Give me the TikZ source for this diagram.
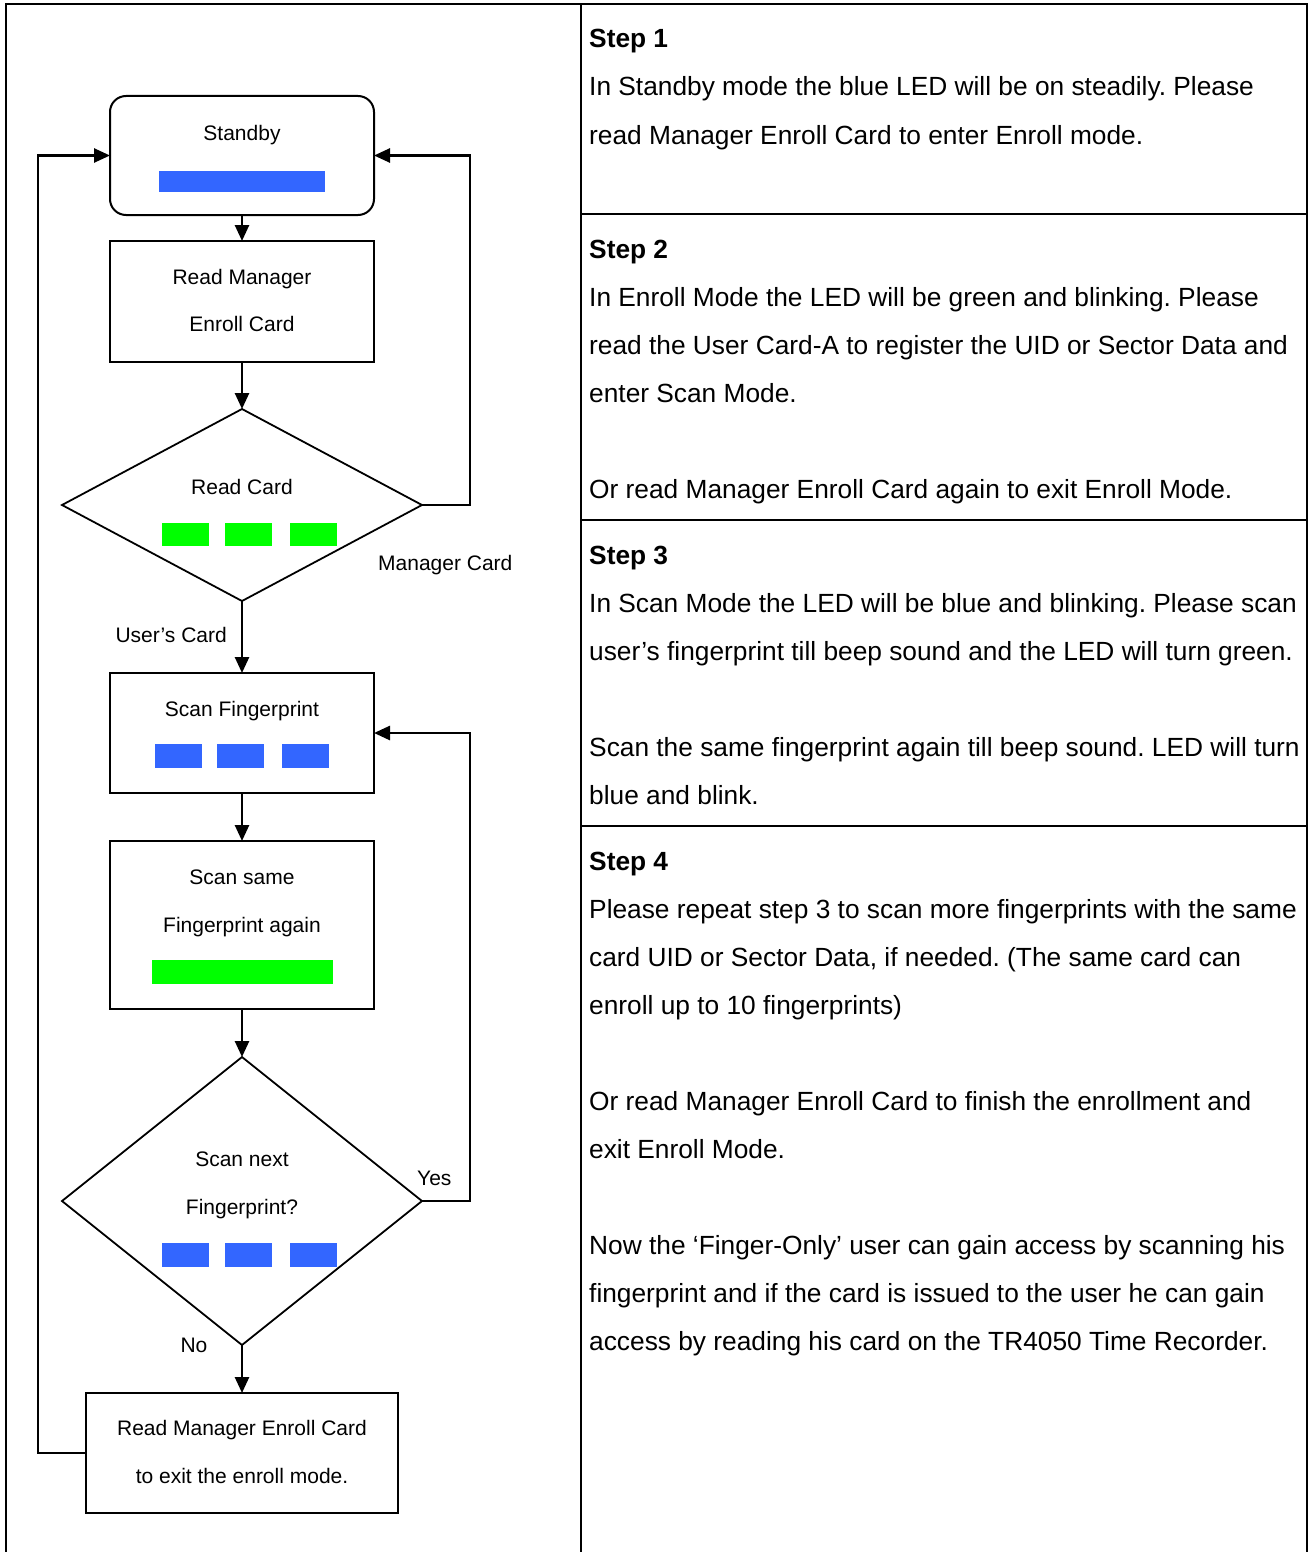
\documentclass[tikz,border=0pt]{standalone}
\usepackage{fontspec}
\setmainfont{Liberation Sans}
\usetikzlibrary{arrows.meta,shapes.geometric}
\definecolor{ledblue}{RGB}{51,102,255}
\definecolor{ledgreen}{RGB}{0,255,0}
\frenchspacing
\begin{document}
\begin{tikzpicture}[x=1pt,y=-1pt,
  frameline/.style={line width=2pt,black},
  boxstyle/.style={draw,line width=2pt,minimum width=264pt,inner sep=0pt,outer sep=0pt},
  diastyle/.style={draw,diamond,line width=1.8pt,inner sep=0pt,outer sep=0pt,minimum width=360pt},
  conn/.style={line width=2.6pt,-{Triangle[length=16pt,width=14pt]}},
  ftext/.style={font=\fontsize{21}{25}\selectfont,anchor=base,inner sep=0pt},
  rtext/.style={font=\fontsize{26.3}{32}\selectfont,anchor=base west,inner sep=0pt},
  rhead/.style={font=\fontsize{26.3}{32}\selectfont\bfseries,anchor=base west,inner sep=0pt},
  bluebar/.style={fill=ledblue,draw=none},
  greenbar/.style={fill=ledgreen,draw=none}]
\useasboundingbox (0,0) rectangle (1309,1552);
\fill[white] (0,0) rectangle (1309,1552);
% table frame
\draw[frameline] (5,4) -- (1308,4);
\draw[frameline] (6,4) -- (6,1552);
\draw[frameline] (1307,4) -- (1307,1552);
\draw[frameline] (581,4) -- (581,1552);
\draw[frameline] (581,214) -- (1307,214);
\draw[frameline] (581,520) -- (1307,520);
\draw[frameline] (581,826) -- (1307,826);
% flowchart nodes
\node[boxstyle,rounded corners=16pt,minimum height=119pt] (standby) at (242,155.5) {};
\node[ftext] (standbyT) at (242,140.5) {Standby};
\fill[bluebar] (159,171) rectangle (325,192);

\node[boxstyle,minimum height=121pt] (readmgr) at (242,301.5) {};
\node[ftext] (readmgrT1) at (242,284.5) {Read Manager};
\node[ftext] (readmgrT2) at (242,331.5) {Enroll Card};

\node[diastyle,minimum height=192pt] (d1) at (242,505) {};
\node[ftext] (d1T) at (242,494.5) {Read Card};
\fill[greenbar] (162,523) rectangle (209,546);
\fill[greenbar] (225,523) rectangle (272,546);
\fill[greenbar] (290,523) rectangle (337,546);

\node[boxstyle,minimum height=120pt] (scan) at (242,733) {};
\node[ftext] (scanT) at (242,716.5) {Scan Fingerprint};
\fill[bluebar] (155,744) rectangle (202,768);
\fill[bluebar] (217,744) rectangle (264,768);
\fill[bluebar] (282,744) rectangle (329,768);

\node[boxstyle,minimum height=168pt] (scan2) at (242,925) {};
\node[ftext] (scan2T1) at (242,884.5) {Scan same};
\node[ftext] (scan2T2) at (242,932.5) {Fingerprint again};
\fill[greenbar] (152,960) rectangle (333,984);

\node[diastyle,minimum height=288pt] (d2) at (242,1201) {};
\node[ftext] (d2T1) at (242,1166.5) {Scan next};
\node[ftext] (d2T2) at (242,1214.5) {Fingerprint?};
\fill[bluebar] (162,1243) rectangle (209,1267);
\fill[bluebar] (225,1243) rectangle (272,1267);
\fill[bluebar] (290,1243) rectangle (337,1267);

\node[boxstyle,minimum width=312pt,minimum height=120pt] (final) at (242,1453) {};
\node[ftext] (finalT1) at (242,1435.5) {Read Manager Enroll Card};
\node[ftext] (finalT2) at (242,1483.5) {to exit the enroll mode.};

% labels
\node[ftext,anchor=base west] (lblMgr) at (378,570.5) {Manager Card};
\node[ftext,anchor=base east] (lblUser) at (227,642.5) {User’s Card};
\node[ftext,anchor=base west] (lblYes) at (417,1185.5) {Yes};
\node[ftext] (lblNo) at (194,1352.5) {No};

% connectors
\coordinate (rx) at (470,0);
\coordinate (lx) at (38,0);
\draw[conn] (standby.south) -- (readmgr.north);
\draw[conn] (readmgr.south) -- (d1.north);
\draw[conn] (d1.south) -- (scan.north);
\draw[conn] (scan.south) -- (scan2.north);
\draw[conn] (scan2.south) -- (d2.north);
\draw[conn] (d2.south) -- (final.north);
\draw[conn] (d1.east) -- (d1.east -| rx) |- (standby.east);
\draw[conn] (d2.east) -- (d2.east -| rx) |- (scan.east);
\draw[conn] (final.west) -- (final.west -| lx) |- (standby.west);

% right column text
\node[rhead] (s1h) at (589,48) {Step 1};
\node[rtext] (s1a) at (589,96) {In Standby mode the blue LED will be on steadily. Please};
\node[rtext] (s1b) at (589,144) {read Manager Enroll Card to enter Enroll mode.};

\node[rhead] (s2h) at (589,258) {Step 2};
\node[rtext] (s2a) at (589,306) {In Enroll Mode the LED will be green and blinking. Please};
\node[rtext] (s2b) at (589,354) {read the User Card-A to register the UID or Sector Data and};
\node[rtext] (s2c) at (589,402) {enter Scan Mode.};
\node[rtext] (s2d) at (589,498) {Or read Manager Enroll Card again to exit Enroll Mode.};

\node[rhead] (s3h) at (589,564) {Step 3};
\node[rtext] (s3a) at (589,612) {In Scan Mode the LED will be blue and blinking. Please scan};
\node[rtext] (s3b) at (589,660) {user’s fingerprint till beep sound and the LED will turn green.};
\node[rtext] (s3c) at (589,756) {Scan the same fingerprint again till beep sound. LED will turn};
\node[rtext] (s3d) at (589,804) {blue and blink.};

\node[rhead] (s4h) at (589,870) {Step 4};
\node[rtext] (s4a) at (589,918) {Please repeat step 3 to scan more fingerprints with the same};
\node[rtext] (s4b) at (589,966) {card UID or Sector Data, if needed. (The same card can};
\node[rtext] (s4c) at (589,1014) {enroll up to 10 fingerprints)};
\node[rtext] (s4d) at (589,1110) {Or read Manager Enroll Card to finish the enrollment and};
\node[rtext] (s4e) at (589,1158) {exit Enroll Mode.};
\node[rtext] (s4f) at (589,1254) {Now the ‘Finger-Only’ user can gain access by scanning his};
\node[rtext] (s4g) at (589,1302) {fingerprint and if the card is issued to the user he can gain};
\node[rtext] (s4h) at (589,1350) {access by reading his card on the TR4050 Time Recorder.};
\end{tikzpicture}
\end{document}
